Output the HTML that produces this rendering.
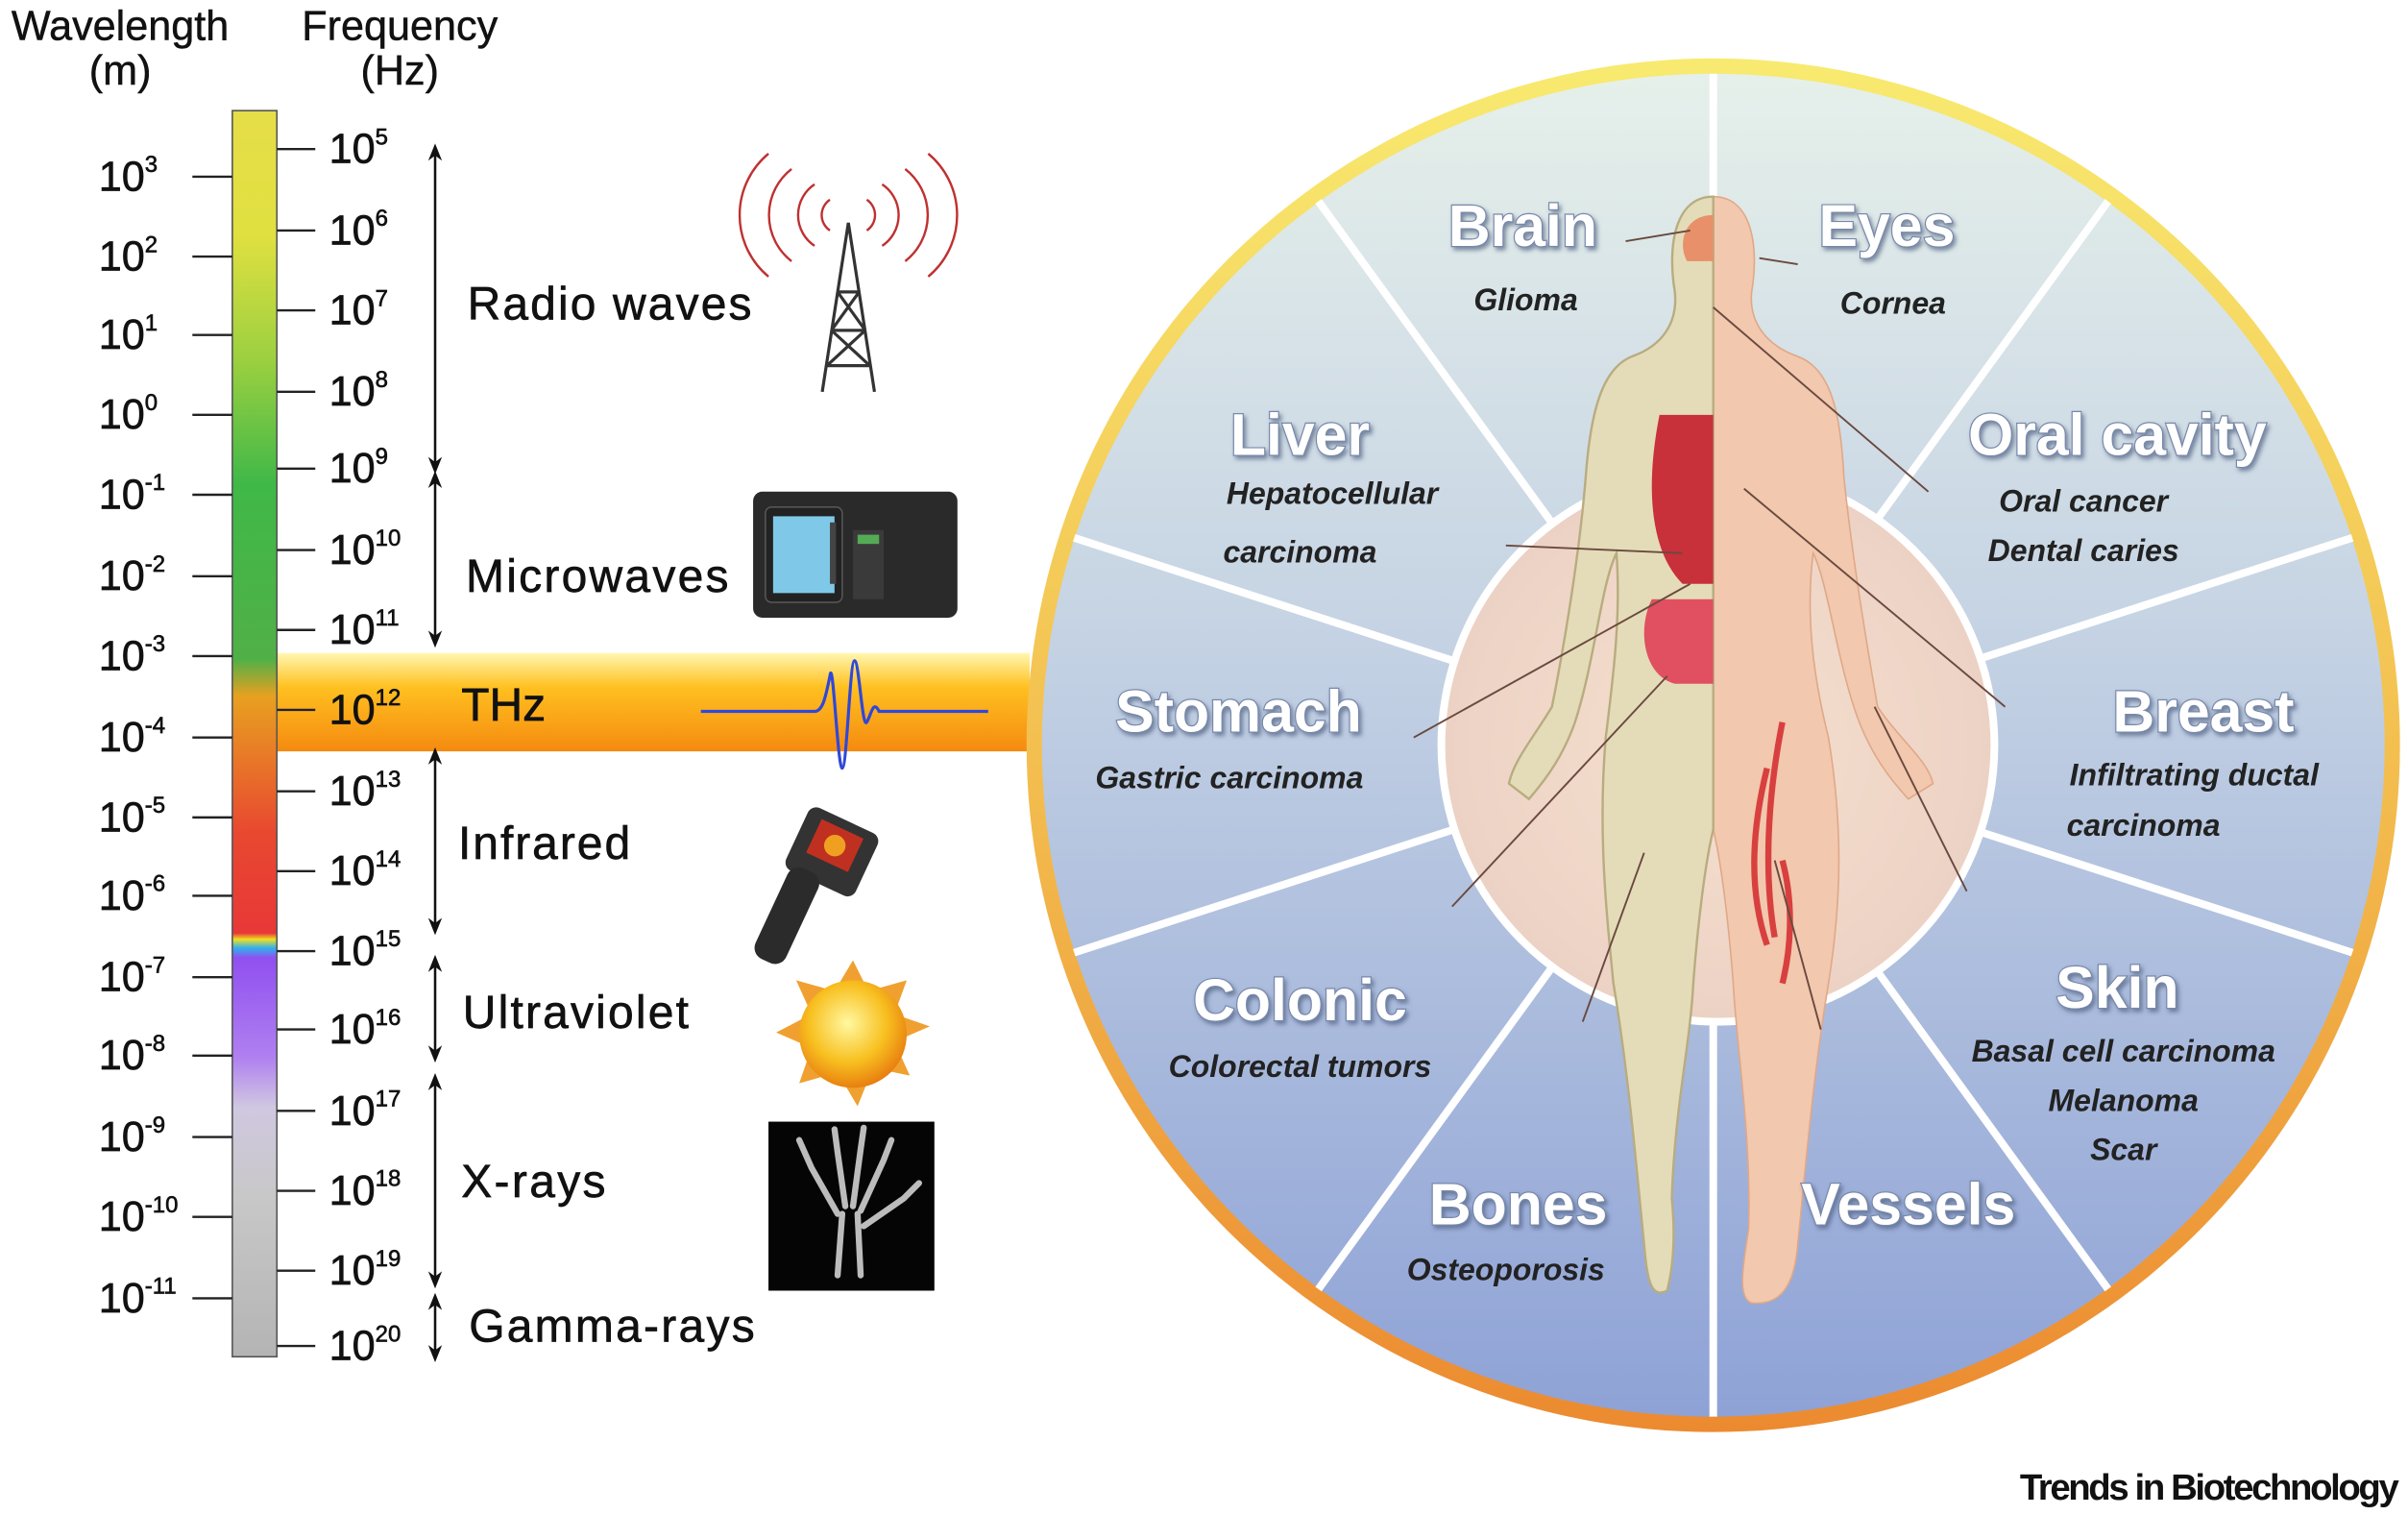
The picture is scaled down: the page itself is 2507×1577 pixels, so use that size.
<!DOCTYPE html>
<html><head><meta charset="utf-8"><style>
html,body{margin:0;padding:0;background:#fff}
svg{display:block}
text{font-family:"Liberation Sans",sans-serif}
.t{font-size:27px;fill:#111;stroke:#111;stroke-width:0.4}
.L{font-size:30px}
.w{font-size:27px;fill:#111;stroke:#111;stroke-width:0.3}
.s{font-size:15px}
.org{font-size:38px;font-weight:bold;fill:#fff;stroke:#7888aa;stroke-width:1.5;paint-order:stroke}
.sub{font-size:20px;font-style:italic;font-weight:bold;fill:#222}
</style></head><body>
<svg width="2507" height="1577" viewBox="0 0 1567 986" xmlns="http://www.w3.org/2000/svg">
<defs>
<linearGradient id="bar" x1="0" y1="0" x2="0" y2="1">
<stop offset="0" stop-color="#e6de48"/><stop offset="0.1" stop-color="#e0e040"/>
<stop offset="0.2" stop-color="#9cd040"/><stop offset="0.3" stop-color="#40b848"/>
<stop offset="0.44" stop-color="#50b048"/><stop offset="0.47" stop-color="#e8a020"/>
<stop offset="0.52" stop-color="#e87828"/><stop offset="0.58" stop-color="#e84830"/>
<stop offset="0.66" stop-color="#e83838"/><stop offset="0.665" stop-color="#f0e020"/>
<stop offset="0.672" stop-color="#30b0f0"/><stop offset="0.68" stop-color="#9050f0"/>
<stop offset="0.76" stop-color="#b080f0"/><stop offset="0.8" stop-color="#d0c8e0"/>
<stop offset="0.87" stop-color="#c8c8c8"/><stop offset="1" stop-color="#b4b4b4"/>
</linearGradient>
<linearGradient id="thz" x1="0" y1="0" x2="0" y2="1">
<stop offset="0" stop-color="#fff7b0"/><stop offset="0.35" stop-color="#ffc020"/><stop offset="1" stop-color="#f58a10"/>
</linearGradient>
<linearGradient id="ring" x1="0" y1="0" x2="0" y2="1">
<stop offset="0" stop-color="#f8ea70"/><stop offset="0.5" stop-color="#f3c050"/><stop offset="1" stop-color="#ec8a30"/>
</linearGradient>
<linearGradient id="disc" x1="0" y1="0" x2="0" y2="1">
<stop offset="0" stop-color="#e6f0ea"/><stop offset="0.4" stop-color="#c6d4e4"/><stop offset="1" stop-color="#8ea2d6"/>
</linearGradient>
<radialGradient id="inner" cx="0.5" cy="0.5" r="0.5">
<stop offset="0" stop-color="#f6e0d0"/><stop offset="1" stop-color="#ecd2c4"/>
</radialGradient>
<radialGradient id="sun" cx="0.45" cy="0.4" r="0.6">
<stop offset="0" stop-color="#fff8a0"/><stop offset="0.6" stop-color="#f8c020"/><stop offset="1" stop-color="#e88010"/>
</radialGradient>
<filter id="sh" x="-10%" y="-10%" width="120%" height="130%"><feDropShadow dx="1.5" dy="2" stdDeviation="1.5" flood-color="#506080" flood-opacity="0.7"/></filter>
<marker id="ah" viewBox="0 0 10 10" refX="5" refY="5" markerWidth="7" markerHeight="7" orient="auto-start-reverse"><path d="M0,1 L10,5 L0,9 L3,5z" fill="#111"/></marker>
</defs>

<text x="78" y="26" class="w" text-anchor="middle">Wavelength</text>
<text x="78" y="55" class="w" text-anchor="middle">(m)</text>
<text x="260" y="26" class="w" text-anchor="middle">Frequency</text>
<text x="260" y="55" class="w" text-anchor="middle">(Hz)</text>

<rect x="180" y="425" width="490" height="64" fill="url(#thz)"/>
<rect x="151" y="72" width="29" height="811" fill="url(#bar)" stroke="#555" stroke-width="1"/>

<g stroke="#222" stroke-width="1.5">
<line x1="125" y1="115" x2="151" y2="115"/><line x1="125" y1="167" x2="151" y2="167"/><line x1="125" y1="218" x2="151" y2="218"/><line x1="125" y1="270" x2="151" y2="270"/><line x1="125" y1="322" x2="151" y2="322"/><line x1="125" y1="375" x2="151" y2="375"/><line x1="125" y1="427" x2="151" y2="427"/><line x1="125" y1="480" x2="151" y2="480"/><line x1="125" y1="532" x2="151" y2="532"/><line x1="125" y1="583" x2="151" y2="583"/><line x1="125" y1="636" x2="151" y2="636"/><line x1="125" y1="687" x2="151" y2="687"/><line x1="125" y1="740" x2="151" y2="740"/><line x1="125" y1="792" x2="151" y2="792"/><line x1="125" y1="845" x2="151" y2="845"/>
<line x1="180" y1="97" x2="205" y2="97"/><line x1="180" y1="150" x2="205" y2="150"/><line x1="180" y1="202" x2="205" y2="202"/><line x1="180" y1="255" x2="205" y2="255"/><line x1="180" y1="305" x2="205" y2="305"/><line x1="180" y1="358" x2="205" y2="358"/><line x1="180" y1="410" x2="205" y2="410"/><line x1="180" y1="462" x2="205" y2="462"/><line x1="180" y1="515" x2="205" y2="515"/><line x1="180" y1="567" x2="205" y2="567"/><line x1="180" y1="619" x2="205" y2="619"/><line x1="180" y1="670" x2="205" y2="670"/><line x1="180" y1="723" x2="205" y2="723"/><line x1="180" y1="775" x2="205" y2="775"/><line x1="180" y1="827" x2="205" y2="827"/><line x1="180" y1="876" x2="205" y2="876"/>
</g>

<g class="t">
<text x="64" y="124">10<tspan class="s" dy="-12">3</tspan></text>
<text x="64" y="176">10<tspan class="s" dy="-12">2</tspan></text>
<text x="64" y="227">10<tspan class="s" dy="-12">1</tspan></text>
<text x="64" y="279">10<tspan class="s" dy="-12">0</tspan></text>
<text x="64" y="331">10<tspan class="s" dy="-12">-1</tspan></text>
<text x="64" y="384">10<tspan class="s" dy="-12">-2</tspan></text>
<text x="64" y="436">10<tspan class="s" dy="-12">-3</tspan></text>
<text x="64" y="489">10<tspan class="s" dy="-12">-4</tspan></text>
<text x="64" y="541">10<tspan class="s" dy="-12">-5</tspan></text>
<text x="64" y="592">10<tspan class="s" dy="-12">-6</tspan></text>
<text x="64" y="645">10<tspan class="s" dy="-12">-7</tspan></text>
<text x="64" y="696">10<tspan class="s" dy="-12">-8</tspan></text>
<text x="64" y="749">10<tspan class="s" dy="-12">-9</tspan></text>
<text x="64" y="801">10<tspan class="s" dy="-12">-10</tspan></text>
<text x="64" y="854">10<tspan class="s" dy="-12">-11</tspan></text>

<text x="214" y="106">10<tspan class="s" dy="-12">5</tspan></text>
<text x="214" y="159">10<tspan class="s" dy="-12">6</tspan></text>
<text x="214" y="211">10<tspan class="s" dy="-12">7</tspan></text>
<text x="214" y="264">10<tspan class="s" dy="-12">8</tspan></text>
<text x="214" y="314">10<tspan class="s" dy="-12">9</tspan></text>
<text x="214" y="367">10<tspan class="s" dy="-12">10</tspan></text>
<text x="214" y="419">10<tspan class="s" dy="-12">11</tspan></text>
<text x="214" y="471">10<tspan class="s" dy="-12">12</tspan></text>
<text x="214" y="524">10<tspan class="s" dy="-12">13</tspan></text>
<text x="214" y="576">10<tspan class="s" dy="-12">14</tspan></text>
<text x="214" y="628">10<tspan class="s" dy="-12">15</tspan></text>
<text x="214" y="679">10<tspan class="s" dy="-12">16</tspan></text>
<text x="214" y="732">10<tspan class="s" dy="-12">17</tspan></text>
<text x="214" y="784">10<tspan class="s" dy="-12">18</tspan></text>
<text x="214" y="836">10<tspan class="s" dy="-12">19</tspan></text>
<text x="214" y="885">10<tspan class="s" dy="-12">20</tspan></text>

<text x="304" y="208" class="L" textLength="185">Radio waves</text>
<text x="303" y="385" class="L" textLength="171">Microwaves</text>
<text x="300" y="469" class="L">THz</text>
<text x="298" y="559" class="L" textLength="112">Infrared</text>
<text x="301" y="669" class="L" textLength="147">Ultraviolet</text>
<text x="300" y="779" class="L" textLength="94">X-rays</text>
<text x="305" y="873" class="L" textLength="186">Gamma-rays</text>
</g>

<g stroke="#111" stroke-width="1.6" marker-start="url(#ah)" marker-end="url(#ah)">
<line x1="283" y1="99" x2="283" y2="303"/>
<line x1="283" y1="312" x2="283" y2="416"/>
<line x1="283" y1="492" x2="283" y2="603"/>
<line x1="283" y1="627" x2="283" y2="686"/>
<line x1="283" y1="704" x2="283" y2="833"/>
<line x1="283" y1="847" x2="283" y2="881"/>
</g>

<g fill="none" stroke="#c03030" stroke-width="1.5">
<path d="M540,130 a12,12 0 0,0 0,20"/><path d="M564,130 a12,12 0 0,1 0,20"/>
<path d="M530,120 a24,24 0 0,0 0,40"/><path d="M574,120 a24,24 0 0,1 0,40"/>
<path d="M515,110 a38,38 0 0,0 0,60"/><path d="M589,110 a38,38 0 0,1 0,60"/>
<path d="M500,100 a52,52 0 0,0 0,80"/><path d="M604,100 a52,52 0 0,1 0,80"/>
</g>
<g stroke="#333" stroke-width="2" fill="none">
<path d="M552,145 L535,255 M552,145 L569,255 M545,190 L559,190 M541,215 L563,215 M538,238 L566,238 M545,190 L563,215 M559,190 L541,215 M541,215 L566,238 M563,215 L538,238"/>
</g>
<rect x="490" y="320" width="133" height="82" rx="6" fill="#2a2a2a"/>
<rect x="498" y="330" width="50" height="62" rx="4" fill="#222" stroke="#555"/>
<rect x="503" y="336" width="40" height="50" fill="#7fc8e8"/>
<rect x="540" y="340" width="4" height="40" fill="#444"/>
<rect x="555" y="345" width="20" height="45" fill="#3a3a3a"/>
<rect x="558" y="348" width="14" height="6" fill="#5a5"/>
<path d="M456,463 L530,463 C535,463 537,455 540,440 C542,425 545,500 548,500 C551,500 553,430 556,430 C559,430 561,475 564,470 C567,465 568,455 572,463 L643,463" fill="none" stroke="#3048d8" stroke-width="2"/>
<g transform="translate(510,515) rotate(25)">
<rect x="20" y="0" width="50" height="45" rx="6" fill="#333"/>
<rect x="30" y="6" width="30" height="24" fill="#c03020"/>
<circle cx="45" cy="18" r="7" fill="#f0a020"/>
<rect x="25" y="40" width="22" height="65" rx="8" fill="#2b2b2b"/>
</g>
<polygon points="555,625 565,645 590,638 582,660 605,668 582,678 592,700 568,695 558,720 545,698 520,705 528,682 505,672 528,660 518,638 543,645" fill="#f0a030"/>
<circle cx="555" cy="673" r="35" fill="url(#sun)"/>
<rect x="500" y="730" width="108" height="110" fill="#050505"/>
<g stroke="#ddd" stroke-width="4" stroke-linecap="round" fill="none" opacity="0.85">
<path d="M545,830 L548,790 M560,830 L558,790"/>
<path d="M545,790 L528,760 L520,742 M550,785 L545,750 L543,735 M555,785 L560,748 L562,734 M560,788 L575,755 L580,742 M562,798 L588,780 L598,770"/>
</g>

<circle cx="1115" cy="485" r="447" fill="url(#ring)"/>
<circle cx="1115" cy="485" r="437" fill="url(#disc)"/>
<g stroke="#fff" stroke-width="5">
<line x1="1115" y1="485" x2="1115" y2="48"/>
<line x1="1115" y1="485" x2="1115" y2="922"/>
<line x1="1115" y1="485" x2="858" y2="131"/>
<line x1="1115" y1="485" x2="1372" y2="131"/>
<line x1="1115" y1="485" x2="699" y2="350"/>
<line x1="1115" y1="485" x2="1531" y2="350"/>
<line x1="1115" y1="485" x2="699" y2="620"/>
<line x1="1115" y1="485" x2="1531" y2="620"/>
<line x1="1115" y1="485" x2="858" y2="839"/>
<line x1="1115" y1="485" x2="1372" y2="839"/>
</g>
<circle cx="1118" cy="485" r="180" fill="url(#inner)" stroke="#fff" stroke-width="5"/>

<path d="M1115,128 C1140,128 1145,160 1140,190 C1138,210 1150,225 1170,232 C1192,240 1198,270 1200,310 C1205,360 1215,420 1222,460 C1235,480 1255,495 1258,510 L1242,520 C1228,505 1218,490 1210,470 C1195,430 1190,380 1180,360 C1175,400 1180,440 1190,480 C1200,540 1198,590 1190,640 C1180,700 1175,760 1170,810 C1168,835 1160,850 1140,848 C1130,845 1135,820 1138,800 C1140,740 1130,680 1128,640 C1125,600 1120,560 1115,540 Z" fill="#f2c8ae" stroke="#e0a888" stroke-width="1"/>
<path d="M1160,470 C1150,520 1148,570 1155,610 M1150,500 C1140,540 1138,580 1150,615 M1160,560 C1168,590 1165,620 1160,640" stroke="#d84040" stroke-width="4" fill="none"/>
<path d="M1115,128 C1090,128 1085,160 1090,190 C1092,210 1082,225 1062,232 C1042,240 1035,270 1032,310 C1028,360 1018,420 1010,460 C998,480 985,495 982,510 L995,520 C1008,505 1018,490 1025,470 C1038,430 1042,380 1052,360 C1055,400 1050,440 1045,480 C1040,540 1045,590 1050,640 C1060,700 1065,760 1070,810 C1072,835 1075,845 1085,840 C1090,820 1090,800 1088,780 C1090,720 1100,680 1102,640 C1105,600 1110,560 1115,540 Z" fill="#e4dcb8" stroke="#b8ac80" stroke-width="1.5"/>
<path d="M1115,140 C1095,140 1092,160 1098,170 L1115,170 Z" fill="#e8906a"/>
<path d="M1080,270 C1070,320 1075,360 1095,380 L1115,380 L1115,270 Z" fill="#c8303a"/>
<path d="M1075,390 C1065,410 1070,440 1090,445 L1115,445 L1115,390 Z" fill="#e05060"/>
<g stroke="#6a4a40" stroke-width="1.2">
<line x1="1058" y1="157" x2="1100" y2="150"/><line x1="1170" y1="172" x2="1145" y2="168"/>
<line x1="1115" y1="200" x2="1255" y2="320"/><line x1="1135" y1="318" x2="1305" y2="460"/>
<line x1="1220" y1="460" x2="1280" y2="580"/><line x1="980" y1="355" x2="1095" y2="360"/>
<line x1="920" y1="480" x2="1100" y2="380"/><line x1="945" y1="590" x2="1085" y2="440"/>
<line x1="1030" y1="665" x2="1070" y2="555"/><line x1="1185" y1="670" x2="1155" y2="560"/>
</g>

<g text-anchor="middle">
<g filter="url(#sh)">
<text x="991" y="160" class="org">Brain</text>
<text x="1228" y="160" class="org">Eyes</text>
<text x="846" y="296" class="org">Liver</text>
<text x="1378" y="296" class="org">Oral cavity</text>
<text x="806" y="476" class="org">Stomach</text>
<text x="1434" y="476" class="org">Breast</text>
<text x="846" y="664" class="org">Colonic</text>
<text x="1378" y="656" class="org">Skin</text>
<text x="988" y="797" class="org">Bones</text>
<text x="1242" y="797" class="org">Vessels</text>
</g>
<text x="993" y="202" class="sub">Glioma</text>
<text x="1232" y="204" class="sub">Cornea</text>
<text x="867" y="328" class="sub">Hepatocellular</text><text x="846" y="366" class="sub">carcinoma</text>
<text x="1356" y="333" class="sub">Oral cancer</text><text x="1356" y="365" class="sub">Dental caries</text>
<text x="800" y="513" class="sub">Gastric carcinoma</text>
<text x="1428" y="511" class="sub">Infiltrating ductal</text><text x="1395" y="544" class="sub">carcinoma</text>
<text x="846" y="701" class="sub">Colorectal tumors</text>
<text x="1382" y="691" class="sub">Basal cell carcinoma</text><text x="1382" y="723" class="sub">Melanoma</text><text x="1382" y="755" class="sub">Scar</text>
<text x="980" y="833" class="sub">Osteoporosis</text>
</g>

<text x="1560" y="976" text-anchor="end" font-size="24" font-weight="bold" letter-spacing="-1.5" fill="#111">Trends in Biotechnology</text>
</svg>
</body></html>
